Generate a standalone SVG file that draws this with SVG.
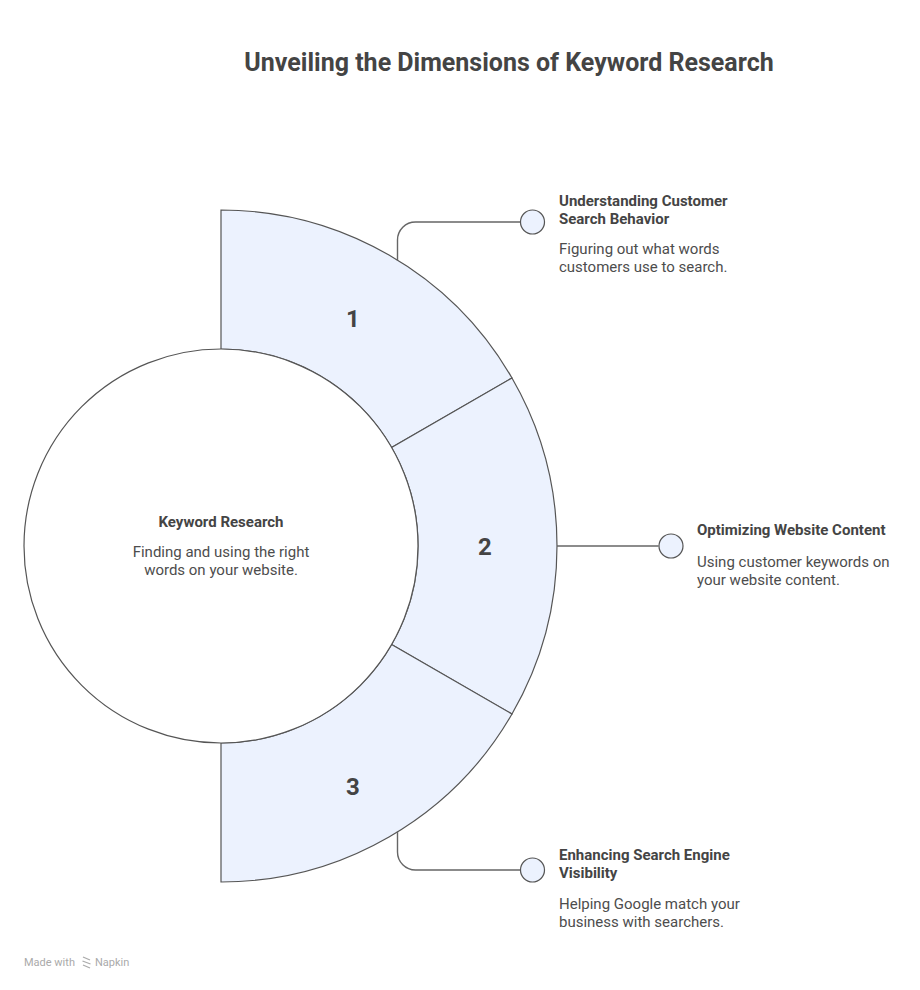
<svg xmlns="http://www.w3.org/2000/svg" width="920" height="990" viewBox="0 0 920 990">
<style>
.seg{fill:#ECF2FE;stroke:#555;stroke-width:1.2}
.hub{fill:#fff;stroke:#555;stroke-width:1.2}
.dot{fill:#ECF2FE;stroke:#555;stroke-width:1.2}
.con{fill:none;stroke:#666;stroke-width:1.4}
.t{font-family:Roboto,"Liberation Sans",sans-serif;fill:#444}
.h{font-size:15px;font-weight:bold}
.d{font-size:15px;fill:#4d4d4d}
.num{font-size:24px;font-weight:bold;text-anchor:middle}
</style>
<rect width="920" height="990" fill="#fff"/>
<text class="t" x="509" y="71" text-anchor="middle" font-size="25" font-weight="bold">Unveiling the Dimensions of Keyword Research</text>
<g id="seg1">
<path class="seg" d="M221,210 A336,336 0 0 1 511.98,378 L391.6,447.5 A197,197 0 0 0 221,349 Z"/>
<text class="t num" x="353" y="327">1</text>
</g>
<g id="seg2">
<path class="seg" d="M511.98,378 A336,336 0 0 1 511.98,714 L391.6,644.5 A197,197 0 0 0 391.6,447.5 Z"/>
<text class="t num" x="485" y="555">2</text>
</g>
<g id="seg3">
<path class="seg" d="M511.98,714 A336,336 0 0 1 221,882 L221,743 A197,197 0 0 0 391.6,644.5 Z"/>
<text class="t num" x="353" y="795">3</text>
</g>
<g id="hub">
<circle class="hub" cx="221" cy="546" r="197"/>
<text class="t h" x="221" y="527" text-anchor="middle">Keyword Research</text>
<text class="t d" x="221" y="557" text-anchor="middle">Finding and using the right</text>
<text class="t d" x="221" y="575" text-anchor="middle">words on your website.</text>
</g>
<g id="connectors">
<path class="con" d="M397.5,260.5 V240 A18,18 0 0 1 415.5,222 H520"/>
<path class="con" d="M557,546 H658.5"/>
<path class="con" d="M397.5,831.5 V852 A18,18 0 0 0 415.5,870 H520"/>
</g>
<g id="label1">
<circle class="dot" cx="532.5" cy="222" r="12"/>
<text class="t h" x="559" y="205.5">Understanding Customer</text>
<text class="t h" x="559" y="223.5">Search Behavior</text>
<text class="t d" x="559" y="253.5">Figuring out what words</text>
<text class="t d" x="559" y="271.5">customers use to search.</text>
</g>
<g id="label2">
<circle class="dot" cx="671" cy="546" r="12"/>
<text class="t h" x="697" y="535">Optimizing Website Content</text>
<text class="t d" x="697" y="566.5">Using customer keywords on</text>
<text class="t d" x="697" y="584.5">your website content.</text>
</g>
<g id="label3">
<circle class="dot" cx="532.5" cy="870" r="12"/>
<text class="t h" x="559" y="860">Enhancing Search Engine</text>
<text class="t h" x="559" y="878">Visibility</text>
<text class="t d" x="559" y="909">Helping Google match your</text>
<text class="t d" x="559" y="927">business with searchers.</text>
</g>
<g id="footer">
<text x="24" y="966" font-family="Roboto,'Liberation Sans',sans-serif" font-size="11" fill="#aaa">Made with</text>
<path d="M83,957 l7,3 M82.5,961 l8,3 M83,965 l7,3" stroke="#aaa" stroke-width="1.3" fill="none"/>
<text x="95" y="966" font-family="Roboto,'Liberation Sans',sans-serif" font-size="11" fill="#aaa">Napkin</text>
</g>
</svg>
